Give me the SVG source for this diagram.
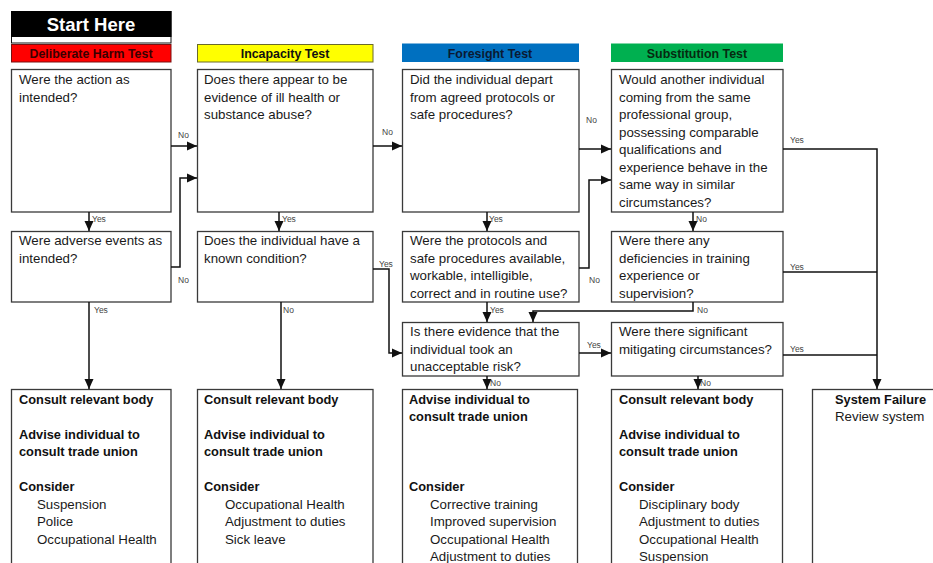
<svg xmlns="http://www.w3.org/2000/svg" width="933" height="563" viewBox="0 0 933 563">
<defs>
<style>
.box{fill:#fff;stroke:#3a3a3a;stroke-width:1.3}
.t{font-family:"Liberation Sans",Arial,sans-serif;font-size:13.3px;fill:#1a1a1a}
.b{font-family:"Liberation Sans",Arial,sans-serif;font-size:12.8px;font-weight:bold;fill:#111}
.h{font-family:"Liberation Sans",Arial,sans-serif;font-size:12.4px;font-weight:bold;text-anchor:middle}
.lb{font-family:"Liberation Sans",Arial,sans-serif;font-size:8.5px;fill:#444}
.c{fill:none;stroke:#111;stroke-width:1.5}
</style>
<marker id="ah" markerUnits="userSpaceOnUse" markerWidth="10" markerHeight="10" viewBox="0 0 10 10" refX="10" refY="5" orient="auto">
<path d="M0,0.5 L10,5 L0,9.5 Z" fill="#111"/>
</marker>
</defs>
<rect width="933" height="563" fill="#fff"/>

<g id="start">
<rect x="11.5" y="11.5" width="159.5" height="31.5" fill="#fff" stroke="#111" stroke-width="1"/>
<rect x="11" y="11" width="160.5" height="26" fill="#000"/>
<text x="91" y="31" font-family="Liberation Sans, Arial, sans-serif" font-size="18.5" font-weight="bold" fill="#fff" text-anchor="middle">Start Here</text>
</g>

<g id="hdr-deliberate">
<rect x="11.5" y="44.5" width="159.5" height="17.5" fill="#ff0000" stroke="#7a1010" stroke-width="1"/>
<text class="h" x="91" y="58" fill="#3a0000">Deliberate Harm Test</text>
</g>
<g id="hdr-incapacity">
<rect x="197.5" y="44.5" width="175.5" height="17.5" fill="#ffff00" stroke="#6a6a2a" stroke-width="1"/>
<text class="h" x="285" y="58" fill="#111">Incapacity Test</text>
</g>
<g id="hdr-foresight">
<rect x="402" y="43.5" width="177" height="18.5" fill="#0070c0"/>
<text class="h" x="490" y="58" fill="#0a1a33">Foresight Test</text>
</g>
<g id="hdr-substitution">
<rect x="611" y="43.5" width="172" height="18.5" fill="#00b050"/>
<text class="h" x="697" y="58" fill="#062a10">Substitution Test</text>
</g>

<g id="q-action">
<rect class="box" x="11.5" y="69.5" width="159.5" height="142.5"/>
<text class="t" x="19" y="84">Were the action as</text>
<text class="t" x="19" y="101.5">intended?</text>
</g>
<g id="q-illhealth">
<rect class="box" x="197.5" y="69.5" width="175.5" height="142.5"/>
<text class="t" x="204" y="84">Does there appear to be</text>
<text class="t" x="204" y="101.5">evidence of ill health or</text>
<text class="t" x="204" y="119">substance abuse?</text>
</g>
<g id="q-depart">
<rect class="box" x="402.5" y="69.5" width="176.5" height="142.5"/>
<text class="t" x="410" y="84">Did the individual depart</text>
<text class="t" x="410" y="101.5">from agreed protocols or</text>
<text class="t" x="410" y="119">safe procedures?</text>
</g>
<g id="q-another">
<rect class="box" x="611.5" y="69.5" width="171.5" height="142.5"/>
<text class="t" x="619" y="84">Would another individual</text>
<text class="t" x="619" y="101.5">coming from the same</text>
<text class="t" x="619" y="119">professional group,</text>
<text class="t" x="619" y="136.5">possessing comparable</text>
<text class="t" x="619" y="154">qualifications and</text>
<text class="t" x="619" y="171.5">experience behave in the</text>
<text class="t" x="619" y="189">same way in similar</text>
<text class="t" x="619" y="206.5">circumstances?</text>
</g>

<g id="q-adverse">
<rect class="box" x="11.5" y="231.5" width="159.5" height="70.5"/>
<text class="t" x="19" y="245">Were adverse events as</text>
<text class="t" x="19" y="262.5">intended?</text>
</g>
<g id="q-condition">
<rect class="box" x="197.5" y="231.5" width="175.5" height="70.5"/>
<text class="t" x="204" y="245">Does the individual have a</text>
<text class="t" x="204" y="262.5">known condition?</text>
</g>
<g id="q-protocols">
<rect class="box" x="402.5" y="231.5" width="176.5" height="70.5"/>
<text class="t" x="410" y="245">Were the protocols and</text>
<text class="t" x="410" y="262.5">safe procedures available,</text>
<text class="t" x="410" y="280">workable, intelligible,</text>
<text class="t" x="410" y="297.5">correct and in routine use?</text>
</g>
<g id="q-deficiencies">
<rect class="box" x="611.5" y="231.5" width="171.5" height="70.5"/>
<text class="t" x="619" y="245">Were there any</text>
<text class="t" x="619" y="262.5">deficiencies in training</text>
<text class="t" x="619" y="280">experience or</text>
<text class="t" x="619" y="297.5">supervision?</text>
</g>

<g id="q-risk">
<rect class="box" x="402.5" y="322.5" width="176.5" height="53.5"/>
<text class="t" x="410" y="336">Is there evidence that the</text>
<text class="t" x="410" y="353.5">individual took an</text>
<text class="t" x="410" y="371">unacceptable risk?</text>
</g>
<g id="q-mitigating">
<rect class="box" x="611.5" y="322.5" width="171.5" height="53.5"/>
<text class="t" x="619" y="336">Were there significant</text>
<text class="t" x="619" y="353.5">mitigating circumstances?</text>
</g>

<g id="out-deliberate">
<rect class="box" x="11.5" y="389.5" width="159.5" height="190"/>
<text class="b" x="19" y="403.5">Consult relevant body</text>
<text class="b" x="19" y="438.5">Advise individual to</text>
<text class="b" x="19" y="456">consult trade union</text>
<text class="b" x="19" y="491">Consider</text>
<text class="t" x="37" y="508.5">Suspension</text>
<text class="t" x="37" y="526">Police</text>
<text class="t" x="37" y="543.5">Occupational Health</text>
</g>
<g id="out-incapacity">
<rect class="box" x="197.5" y="389.5" width="175.5" height="190"/>
<text class="b" x="204" y="403.5">Consult relevant body</text>
<text class="b" x="204" y="438.5">Advise individual to</text>
<text class="b" x="204" y="456">consult trade union</text>
<text class="b" x="204" y="491">Consider</text>
<text class="t" x="225" y="508.5">Occupational Health</text>
<text class="t" x="225" y="526">Adjustment to duties</text>
<text class="t" x="225" y="543.5">Sick leave</text>
</g>
<g id="out-foresight">
<rect class="box" x="402.5" y="389.5" width="175" height="190"/>
<text class="b" x="409" y="403.5">Advise individual to</text>
<text class="b" x="409" y="421">consult trade union</text>
<text class="b" x="409" y="491">Consider</text>
<text class="t" x="430" y="508.5">Corrective training</text>
<text class="t" x="430" y="526">Improved supervision</text>
<text class="t" x="430" y="543.5">Occupational Health</text>
<text class="t" x="430" y="561">Adjustment to duties</text>
</g>
<g id="out-substitution">
<rect class="box" x="611.5" y="389.5" width="171" height="190"/>
<text class="b" x="619" y="403.5">Consult relevant body</text>
<text class="b" x="619" y="438.5">Advise individual to</text>
<text class="b" x="619" y="456">consult trade union</text>
<text class="b" x="619" y="491">Consider</text>
<text class="t" x="639" y="508.5">Disciplinary body</text>
<text class="t" x="639" y="526">Adjustment to duties</text>
<text class="t" x="639" y="543.5">Occupational Health</text>
<text class="t" x="639" y="561">Suspension</text>
</g>
<g id="out-system">
<rect class="box" x="812.5" y="389.5" width="140" height="190"/>
<text class="b" x="835" y="403.5">System Failure</text>
<text class="t" x="835" y="421">Review system</text>
</g>

<g id="connectors">
<path class="c" d="M171,146 H197" marker-end="url(#ah)"/>
<path class="c" d="M171,267 H180 V178 H197" marker-end="url(#ah)"/>
<path class="c" d="M89,212 V231" marker-end="url(#ah)"/>
<path class="c" d="M89,302 V389" marker-end="url(#ah)"/>
<path class="c" d="M279,212 V231" marker-end="url(#ah)"/>
<path class="c" d="M281,302 V389" marker-end="url(#ah)"/>
<path class="c" d="M373,269 H389 V353 H402" marker-end="url(#ah)"/>
<path class="c" d="M373,146 H402" marker-end="url(#ah)"/>
<path class="c" d="M579,149 H611" marker-end="url(#ah)"/>
<path class="c" d="M579,268 H589 V180 H611" marker-end="url(#ah)"/>
<path class="c" d="M487,212 V231" marker-end="url(#ah)"/>
<path class="c" d="M487,302 V322" marker-end="url(#ah)"/>
<path class="c" d="M693,212 V231" marker-end="url(#ah)"/>
<path class="c" d="M693,302 V311 H533 V322" marker-end="url(#ah)"/>
<path class="c" d="M579,353 H611" marker-end="url(#ah)"/>
<path class="c" d="M487,376 V389" marker-end="url(#ah)"/>
<path class="c" d="M698,376 V389" marker-end="url(#ah)"/>
<path class="c" d="M783,149 H877 V389" marker-end="url(#ah)"/>
<path class="c" d="M783,272 H877"/>
<path class="c" d="M783,355 H877"/>
<text class="lb" x="178" y="138">No</text>
<text class="lb" x="178" y="283">No</text>
<text class="lb" x="92" y="222">Yes</text>
<text class="lb" x="94" y="313">Yes</text>
<text class="lb" x="282" y="222">Yes</text>
<text class="lb" x="283" y="313">No</text>
<text class="lb" x="379" y="267">Yes</text>
<text class="lb" x="382" y="135">No</text>
<text class="lb" x="586" y="123">No</text>
<text class="lb" x="589" y="283">No</text>
<text class="lb" x="489" y="222">Yes</text>
<text class="lb" x="490" y="313">Yes</text>
<text class="lb" x="696" y="222">No</text>
<text class="lb" x="697" y="313">No</text>
<text class="lb" x="587" y="348">Yes</text>
<text class="lb" x="490" y="386">No</text>
<text class="lb" x="700" y="386">No</text>
<text class="lb" x="790" y="143">Yes</text>
<text class="lb" x="790" y="270">Yes</text>
<text class="lb" x="790" y="352">Yes</text>
</g>
</svg>
